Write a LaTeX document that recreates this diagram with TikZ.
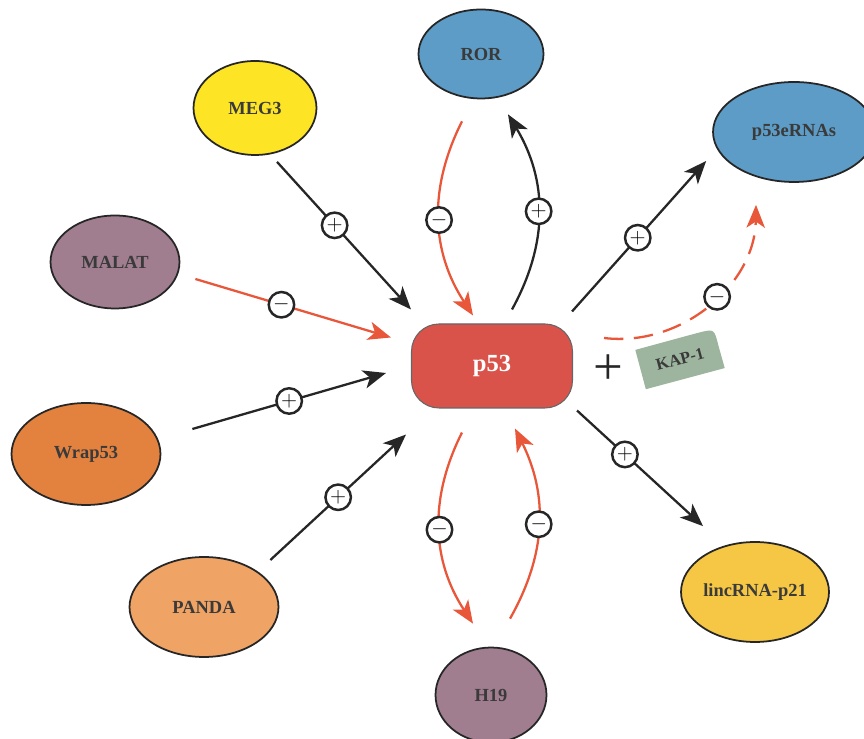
\documentclass[tikz,border=0pt]{standalone}
\usepackage{fontspec}
\setmainfont{Liberation Serif}
\usetikzlibrary{shapes.geometric,arrows.meta,backgrounds}

\definecolor{rorblue}{HTML}{5C9CC6}
\definecolor{megyellow}{HTML}{FDE526}
\definecolor{malatpurple}{HTML}{A07D8F}
\definecolor{wraporange}{HTML}{E3823F}
\definecolor{pandaorange}{HTML}{EFA365}
\definecolor{lincyellow}{HTML}{F6C744}
\definecolor{pred}{HTML}{D9534A}
\definecolor{kapgreen}{HTML}{9DB59E}
\definecolor{negred}{HTML}{E9573B}
\definecolor{labelgray}{HTML}{3A3A3A}
\definecolor{linegray}{HTML}{262626}

\tikzset{
    gene/.style={ellipse, draw=linegray, line width=1pt, inner sep=0pt,
        font=\bfseries\fontsize{10.5}{12}\selectfont, text=labelgray},
    sign/.style={circle, solid, draw=linegray, fill=white, line width=1.4pt,
        minimum size=14.5pt, inner sep=0pt, font=\fontsize{12}{12}\selectfont},
    posarr/.style={draw=linegray, line width=1.3pt,
        -{Stealth[length=13pt,width=10.5pt,inset=3.5pt]}},
    negarr/.style={draw=negred, line width=1.3pt,
        -{Stealth[length=13pt,width=10.5pt,inset=3.5pt]}}
}

\begin{document}
\begin{tikzpicture}[x=0.02cm,y=0.02cm]
    \useasboundingbox (0,0) rectangle (864,739);

    % central node
    \node[rectangle, rounded corners=0.55cm, fill=pred, draw=black!60, line width=0.6pt,
        minimum width=3.22cm, minimum height=1.68cm, text=white,
        font=\bfseries\fontsize{14}{16}\selectfont] (p53) at (492,373) {p53};

    % lncRNAs
    \node[gene, fill=rorblue, minimum width=2.5cm, minimum height=1.78cm] (ror) at (481,685) {ROR};
    \node[gene, fill=megyellow, minimum width=2.46cm, minimum height=1.88cm] (meg) at (255,631) {MEG3};
    \node[gene, fill=malatpurple, minimum width=2.58cm, minimum height=1.86cm] (malat) at (115,477) {MALAT};
    \node[gene, fill=wraporange, minimum width=2.98cm, minimum height=2.04cm] (wrap) at (86,285) {Wrap53};
    \node[gene, fill=pandaorange, minimum width=2.98cm, minimum height=2cm] (panda) at (204,132) {PANDA};
    \node[gene, fill=malatpurple, minimum width=2.22cm, minimum height=1.9cm] (h19) at (491,44) {H19};
    \node[gene, fill=lincyellow, minimum width=2.96cm, minimum height=2cm] (linc) at (755,147) {lincRNA-p21};
    \node[gene, fill=rorblue, minimum width=3.24cm, minimum height=2cm] (erna) at (794,607) {p53eRNAs};

    % KAP-1 complex
    \node[font=\fontsize{30}{30}\selectfont, text=linegray] (plus) at (608,369) {+};
    \node[rotate=15, minimum width=1.62cm, minimum height=0.8cm, text=labelgray,
        font=\bfseries\fontsize{9.5}{11}\selectfont] (kap) at (680,380) {KAP-1};
    \begin{scope}[on background layer]
        \fill[kapgreen] (kap.south west) -- (kap.north west) -- ([shift={(-16,-4)}]kap.north east)
            .. controls (kap.north east) .. ([shift={(4,-16)}]kap.north east) -- (kap.south east) -- cycle;
    \end{scope}

    % straight arrows
    \draw[posarr] ([shift={(22,-6)}]meg.south) -- node[sign, pos=0.43] {$+$} ([shift={(0,14)}]p53.north west);
    \draw[negarr] ([shift={(15,-17)}]malat.east) -- node[sign, pos=0.44] {$-$} ([shift={(-20,-14)}]p53.north west);
    \draw[posarr] ([shift={(31,25)}]wrap.east) -- node[sign] {$+$} ([shift={(-25,-7)}]p53.west);
    \draw[posarr] ([shift={(-9,47)}]panda.east) -- node[sign] {$+$} ([shift={(-5,-26)}]p53.south west);
    \draw[posarr] ([shift={(-1,12)}]p53.north east) -- node[sign, pos=0.49] {$+$} ([shift={(-6,-29)}]erna.west);
    \draw[posarr] ([shift={(4,-2)}]p53.south east) -- node[sign, pos=0.38] {$+$} ([shift={(-52,15)}]linc.north);

    % curved arrows
    \draw[negarr] ([shift={(-19,-22)}]ror.south) to[bend right=30] node[sign] {$-$} ([shift={(-19,8)}]p53.north);
    \draw[posarr] ([shift={(20,14)}]p53.north) to[bend right=30] node[sign] {$+$} ([shift={(27,-15)}]ror.south);
    \draw[negarr] ([shift={(-30,-24)}]p53.south) to[bend right=30] node[sign] {$-$} ([shift={(-18,23)}]h19.north);
    \draw[negarr] ([shift={(19,28)}]h19.north) to[bend right=28] node[sign] {$-$} ([shift={(23,-20)}]p53.south);
    \draw[negarr, dash pattern=on 11pt off 6pt] ([shift={(31,28)}]p53.east) to[bend right=48]
        node[sign, pos=0.55] {$-$} ([shift={(-38,-22)}]erna.south);
\end{tikzpicture}
\end{document}
